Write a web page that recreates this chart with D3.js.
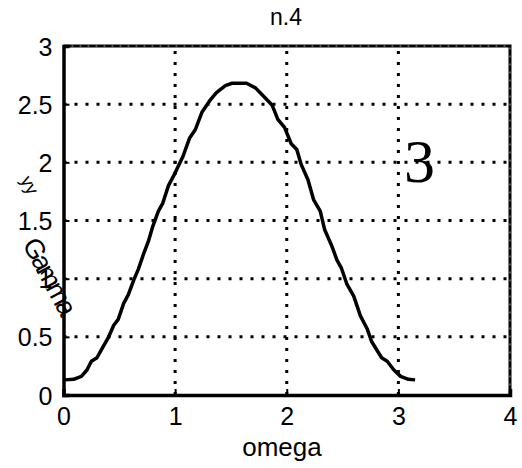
<!DOCTYPE html>
<html>
<head>
<meta charset="utf-8">
<script src="https://cdn.jsdelivr.net/npm/d3@7"></script>
<style>
  body { margin: 0; background: #fff; }
  text { font-family: "Liberation Sans", Arial, sans-serif; fill: #000; }
</style>
</head>
<body>
<svg width="522" height="468"></svg>
<script>
var svg = d3.select("svg");

// values
var omega = [0.01, 0.09, 0.16, 0.21, 0.25, 0.30, 0.34, 0.40, 0.45, 0.49, 0.54, 0.58, 0.63, 0.67,
  0.72, 0.76, 0.80, 0.85, 0.89, 0.94, 0.99, 1.03, 1.07, 1.13, 1.18, 1.24, 1.31, 1.37, 1.45, 1.51,
  1.58, 1.64, 1.72, 1.79, 1.87, 1.92, 1.98, 2.04, 2.09, 2.13, 2.19, 2.24, 2.30, 2.34, 2.40, 2.45,
  2.49, 2.54, 2.60, 2.66, 2.72, 2.76, 2.85, 2.90, 2.96, 3.02, 3.09, 3.15];
var gamma = [0.13, 0.135, 0.16, 0.215, 0.29, 0.32, 0.39, 0.49, 0.60, 0.65, 0.79, 0.86, 0.99, 1.08,
  1.22, 1.32, 1.45, 1.58, 1.65, 1.80, 1.89, 1.97, 2.05, 2.21, 2.28, 2.43, 2.53, 2.60, 2.66, 2.68,
  2.68, 2.68, 2.64, 2.57, 2.49, 2.37, 2.30, 2.16, 2.11, 1.98, 1.85, 1.68, 1.58, 1.42, 1.29, 1.16,
  1.09, 0.95, 0.85, 0.68, 0.57, 0.46, 0.32, 0.29, 0.215, 0.16, 0.135, 0.13];
var xTicks = [0, 1, 2, 3, 4];
var yTicks = [0, 0.5, 1, 1.5, 2, 2.5, 3];

var mLeft = 63.5, mRight = 510, mTop = 46, mBottom = 395;

var x = d3.scaleLinear().domain([0, 4]).range([mLeft, mRight]);
var y = d3.scaleLinear().domain([0, 3]).range([mBottom, mTop]);

// grid
var grid = svg.append("g")
    .attr("stroke", "#000")
    .attr("stroke-width", 3)
    .attr("stroke-dasharray", "3,8");

grid.selectAll(".vx")
    .data(xTicks.slice(1, -1))
  .enter().append("line")
    .attr("x1", function(d) { return x(d); })
    .attr("x2", function(d) { return x(d); })
    .attr("y1", mBottom)
    .attr("y2", mTop);

grid.selectAll(".hy")
    .data(yTicks.slice(1, -1))
  .enter().append("line")
    .attr("x1", mLeft)
    .attr("x2", mRight)
    .attr("y1", function(d) { return y(d); })
    .attr("y2", function(d) { return y(d); });

// top and right box edges
var box = "M" + mLeft + "," + mTop + "H" + mRight + "V" + mBottom;
svg.append("path")
    .attr("d", box)
    .attr("fill", "none")
    .attr("stroke", "#000")
    .attr("stroke-width", 3);
svg.append("path")
    .attr("d", box)
    .attr("fill", "none")
    .attr("stroke", "#999")
    .attr("stroke-width", 1)
    .attr("stroke-dasharray", "2,6");

// axes
var xAxis = svg.append("g")
    .attr("transform", "translate(0," + mBottom + ")")
    .call(d3.axisBottom(x).tickValues(xTicks).tickSize(-6).tickPadding(7).tickFormat(d3.format("d")));
var yAxis = svg.append("g")
    .attr("transform", "translate(" + mLeft + ",0)")
    .call(d3.axisLeft(y).tickValues(yTicks).tickSize(-6).tickPadding(11).tickFormat(function(d) { return d; }));

[xAxis, yAxis].forEach(function(a) {
  a.attr("font-size", 25).attr("font-family", "'Liberation Sans', Arial, sans-serif");
  a.select(".domain").attr("stroke", "#000").attr("stroke-width", 3.5);
  a.selectAll(".tick line").attr("stroke", "#000").attr("stroke-width", 2);
  a.selectAll(".tick text").attr("fill", "#000");
});
xAxis.selectAll(".tick text").attr("dy", "0.9em");
yAxis.selectAll(".tick text").attr("dy", "0.36em");

// curve
var line = d3.line()
    .x(function(d, i) { return x(omega[i]); })
    .y(function(d) { return y(d); });

svg.append("path")
    .datum(gamma)
    .attr("d", line)
    .attr("fill", "none")
    .attr("stroke", "#000")
    .attr("stroke-width", 3.5)
    .attr("stroke-linejoin", "round");

// labels
svg.append("text")
    .attr("x", 286)
    .attr("y", 25)
    .attr("text-anchor", "middle")
    .style("font-size", "23px")
    .text("n.4");

svg.append("text")
    .attr("x", 282)
    .attr("y", 456)
    .attr("text-anchor", "middle")
    .style("font-size", "26px")
    .text("omega");

svg.append("text")
    .attr("transform", "translate(22,244) rotate(62)")
    .style("font-size", "27px")
    .style("letter-spacing", "-3px")
    .text("Gamma");

svg.append("text")
    .attr("transform", "translate(20,180) rotate(62)")
    .style("font-size", "18px")
    .text("yy");

svg.append("text")
    .attr("x", 404)
    .attr("y", 182)
    .style("font-family", "'Liberation Serif', 'Times New Roman', serif")
    .style("font-size", "62px")
    .text("3");
</script>
</body>
</html>
